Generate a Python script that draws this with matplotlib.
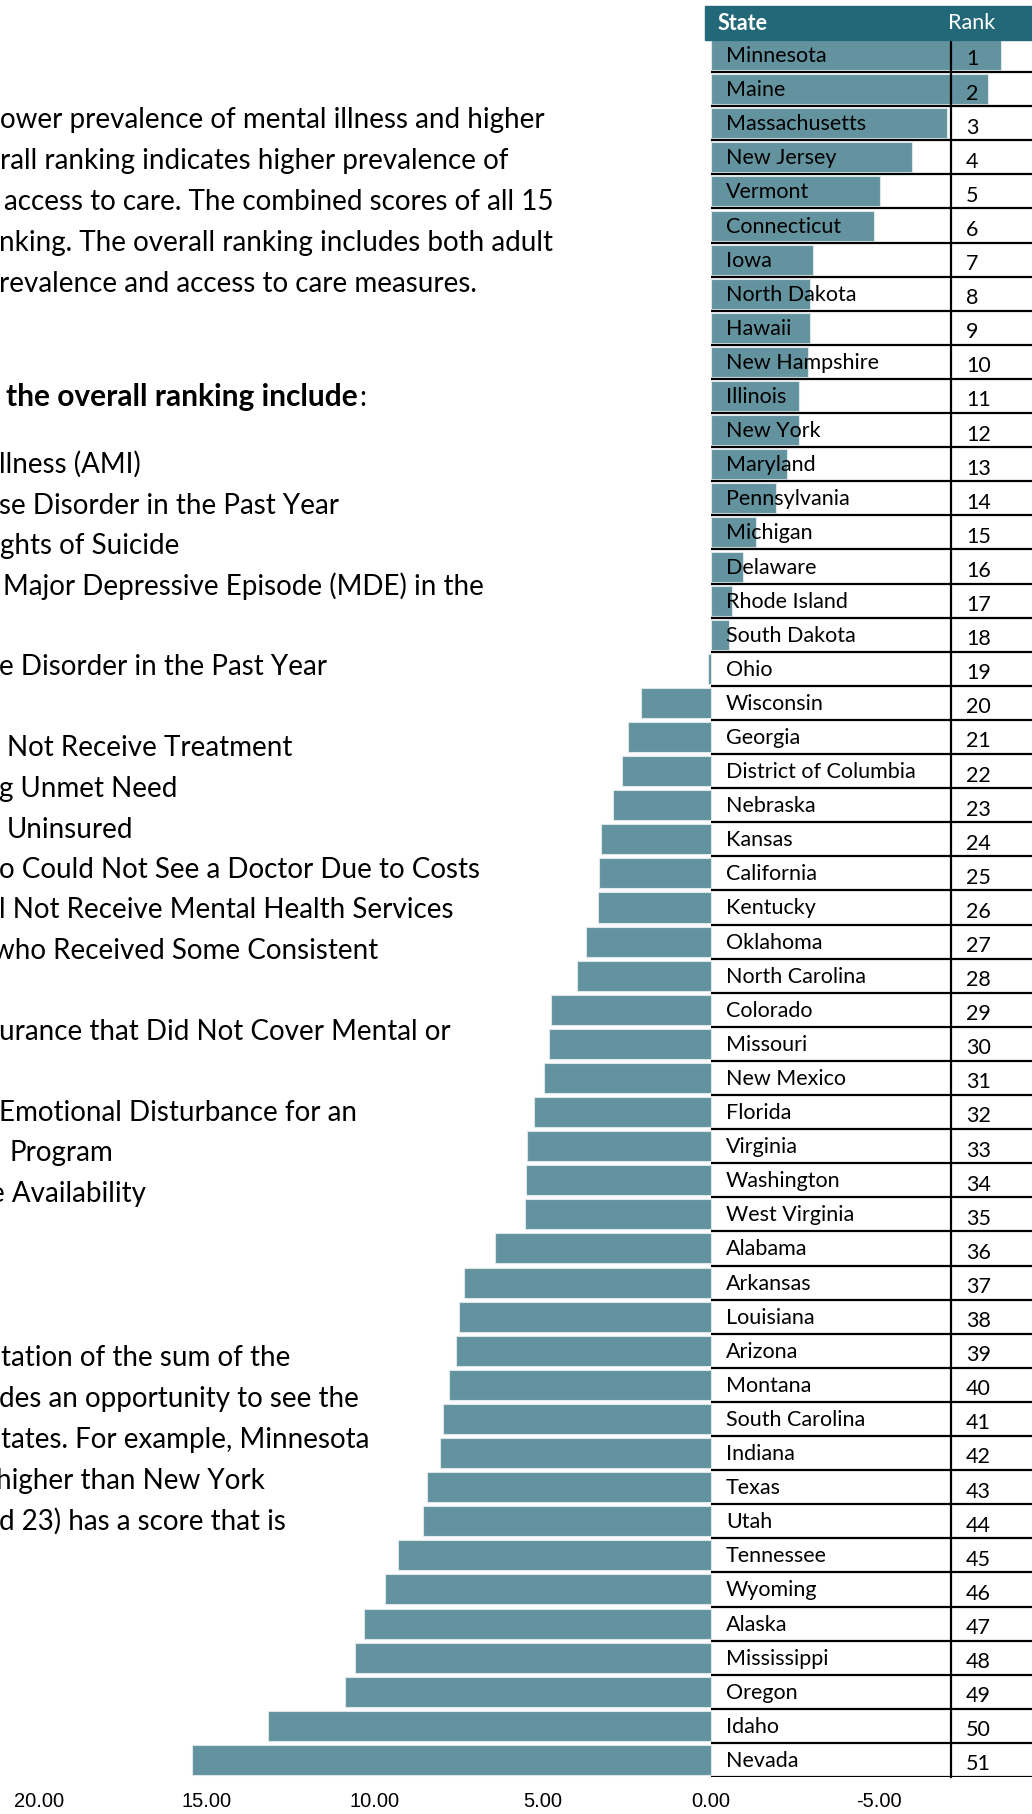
import matplotlib
matplotlib.use('Agg')
import matplotlib.pyplot as plt
from matplotlib.patches import Rectangle

# ---------------- data ----------------
states = ["Minnesota", "Maine", "Massachusetts", "New Jersey", "Vermont", "Connecticut",
          "Iowa", "North Dakota", "Hawaii", "New Hampshire", "Illinois", "New York",
          "Maryland", "Pennsylvania", "Michigan", "Delaware", "Rhode Island", "South Dakota",
          "Ohio", "Wisconsin", "Georgia", "District of Columbia", "Nebraska", "Kansas",
          "California", "Kentucky", "Oklahoma", "North Carolina", "Colorado", "Missouri",
          "New Mexico", "Florida", "Virginia", "Washington", "West Virginia", "Alabama",
          "Arkansas", "Louisiana", "Arizona", "Montana", "South Carolina", "Indiana",
          "Texas", "Utah", "Tennessee", "Wyoming", "Alaska", "Mississippi", "Oregon",
          "Idaho", "Nevada"]
scores = [-8.63, -8.24, -7.02, -5.98, -5.03, -4.85, -3.04, -2.96, -2.95, -2.90,
          -2.63, -2.63, -2.25, -1.92, -1.33, -0.94, -0.62, -0.53, 0.10, 2.07,
          2.46, 2.66, 2.93, 3.28, 3.34, 3.37, 3.73, 4.00, 4.76, 4.82,
          4.97, 5.27, 5.48, 5.51, 5.54, 6.43, 7.34, 7.49, 7.58, 7.79,
          7.97, 8.07, 8.46, 8.58, 9.32, 9.70, 10.33, 10.60, 10.89, 13.18, 15.45]
ranks = [1, 2, 3, 4, 5, 6, 7, 8, 9, 10, 11, 12, 13, 14, 15, 16, 17, 18, 19, 20,
         21, 22, 23, 24, 25, 26, 27, 28, 29, 30, 31, 32, 33, 34, 35, 36, 37, 38, 39, 40,
         41, 42, 43, 44, 45, 46, 47, 48, 49, 50, 51]
tick_values = [20, 15, 10, 5, 0, -5]
tick_labels = ["20.00", "15.00", "10.00", "5.00", "0.00", "-5.00"]
header_labels = ["State", "Rank"]

para_top = ["ower prevalence of mental illness and higher",
            "rall ranking indicates higher prevalence of",
            "access to care. The combined scores of all 15",
            "nking. The overall ranking includes both adult",
            "revalence and access to care measures."]
para_top_x = [0, 0, 4, -1, -1]
measures_title = "the overall ranking include"
measures = [(0, "llness (AMI)"), (1, "se Disorder in the Past Year"), (2, "ghts of Suicide"),
            (3, "Major Depressive Episode (MDE) in the"), (5, "e Disorder in the Past Year"),
            (7, "Not Receive Treatment"), (8, "g Unmet Need"), (9, "Uninsured"),
            (10, "o Could Not See a Doctor Due to Costs"), (11, "l Not Receive Mental Health Services"),
            (12, "who Received Some Consistent"), (14, "urance that Did Not Cover Mental or"),
            (16, "Emotional Disturbance for an"), (17, "Program"), (18, "e Availability")]
measures_x = [-1, -1, 0, 3, -1, 7, -1, 7, -1, -1, -7, -1, -1, 9, -10]
para_bottom = ["tation of the sum of the",
               "des an opportunity to see the",
               "tates. For example, Minnesota",
               "higher than New York",
               "d 23) has a score that is"]
para_bottom_x = [1, -1, 1, -4, -1]

# ---------------- style ----------------
BAR = "#62939F"
HEAD = "#226878"
W, H, DPI = 1032, 1815, 100
plt.rcParams['axes.unicode_minus'] = False
TXT_FONT = ["Lato", "DejaVu Sans"]
TAB_FONT = ["Lato", "DejaVu Sans"]
TICK_FONT = ["Liberation Sans Narrow", "Liberation Sans", "DejaVu Sans"]

fig = plt.figure(figsize=(W / DPI, H / DPI), dpi=DPI)


def fx(px):
    return px / W


def fy(py):
    return 1 - py / H


top_px, bot_px = 39, 1778
zero_px, ppu = 711, 33.6
ax = fig.add_axes([0, fy(bot_px), 1, (bot_px - top_px) / H])
n = len(states)
ax.set_xlim(zero_px / ppu, (zero_px - W) / ppu)
ax.set_ylim(n - 0.5, -0.5)
ypos = list(range(n))

ax.barh(ypos, scores, height=0.88, color=BAR, edgecolor="#dde7ea", linewidth=0.8, zorder=2)

for s in ax.spines.values():
    s.set_visible(False)
ax.set_xticks(tick_values)
ax.set_xticklabels(tick_labels, fontfamily=TICK_FONT, fontsize=14.5)
ax.tick_params(axis='x', length=0, pad=10)
ax.tick_params(axis='y', left=False, labelleft=False)

# table lines
xr = ax.get_xlim()[1]
ax.hlines([y + 0.5 for y in ypos], 0, xr, color="black", lw=1.6, zorder=3)
ax.plot([fx(951), fx(951)], [-0.5, n - 0.5], transform=ax.get_yaxis_transform(),
        color="black", lw=1.6, zorder=3, clip_on=False)

tr = ax.get_yaxis_transform()
for y, name, rk in zip(ypos, states, ranks):
    ax.text(fx(726), y, name, transform=tr, ha="left", va="center",
            fontfamily=TAB_FONT, fontsize=15.5, zorder=4)
    ax.text(fx(966), y + 0.1, str(rk), transform=tr, ha="left", va="center",
            fontfamily=TAB_FONT, fontsize=15.5, zorder=4)

# header
fig.patches.append(Rectangle((fx(705), fy(41)), 1 - fx(705) + 0.01, 34 / H,
                             transform=fig.transFigure, color=HEAD, zorder=5))
fig.text(fx(718), fy(24), header_labels[0], color="white", fontweight="bold",
         fontfamily=TAB_FONT, fontsize=15.5, ha="left", va="center", zorder=6)
fig.text(fx(948), fy(23), header_labels[1], color="white",
         fontfamily=TAB_FONT, fontsize=15.5, ha="left", va="center", zorder=6)

# paragraph text on the left
FS = 20
for i, (line, xo) in enumerate(zip(para_top, para_top_x)):
    fig.text(fx(xo), fy(128 + 41 * i), line, fontfamily=TXT_FONT, fontsize=FS,
             ha="left", va="baseline")
t_bold = fig.text(fx(6), fy(406), measures_title, fontfamily=TXT_FONT, fontsize=21.5,
                  fontweight="bold", ha="left", va="baseline")
ax.annotate(":", xy=(1, 0), xycoords=t_bold, xytext=(1, 0), textcoords="offset points",
            ha="left", va="bottom", fontfamily=TXT_FONT, fontsize=FS, annotation_clip=False)
for (k, line), xo in zip(measures, measures_x):
    fig.text(fx(xo), fy(473 + 40.5 * k), line, fontfamily=TXT_FONT, fontsize=FS,
             ha="left", va="baseline")
for i, (line, xo) in enumerate(zip(para_bottom, para_bottom_x)):
    fig.text(fx(xo), fy(1366 + 41 * i), line, fontfamily=TXT_FONT, fontsize=FS,
             ha="left", va="baseline")

fig.savefig("out.png", dpi=DPI)
